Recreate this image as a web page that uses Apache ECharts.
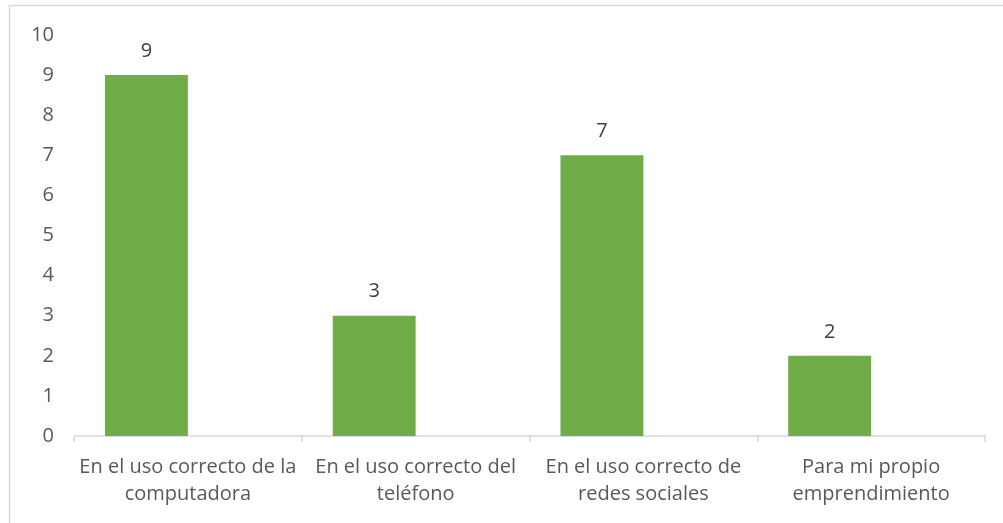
<!DOCTYPE html>
<html>
<head>
<meta charset="utf-8">
<script src="https://cdn.jsdelivr.net/npm/echarts@6/dist/echarts.min.js"></script>
<style>html,body{margin:0;padding:0;background:#fff;}#c{width:1003px;height:523px;}</style>
</head>
<body>
<div id="c"></div>
<script>
var categories = ["En el uso correcto de la\ncomputadora", "En el uso correcto del\nteléfono", "En el uso correcto de\nredes sociales", "Para mi propio\nemprendimiento"];
var values = [9, 3, 7, 2];
var emptySeries = [null, null, null, null];
var yTicks = { min: 0, max: 10, interval: 1 };

var chart = echarts.init(document.getElementById('c'), null, { renderer: 'canvas' });
var font = 'Open Sans';
chart.setOption({
  animation: false,
  graphic: [{
    type: 'rect', shape: { x: 9.5, y: 5.5, width: 1010, height: 540 },
    style: { fill: 'none', stroke: '#d9d9d9', lineWidth: 1.5 }, silent: true, z: -1
  }],
  grid: { left: 74, right: 18, top: 35, bottom: 87, containLabel: false },
  xAxis: {
    type: 'category', data: categories,
    axisLine: { lineStyle: { color: '#d9d9d9', width: 1.5 } },
    axisTick: { show: true, length: 6, lineStyle: { color: '#d9d9d9', width: 1.5 } },
    axisLabel: { color: '#595959', fontSize: 20, fontFamily: font, lineHeight: 27, margin: 18, interval: 0 }
  },
  yAxis: {
    type: 'value', min: yTicks.min, max: yTicks.max, interval: yTicks.interval,
    axisLine: { show: false }, axisTick: { show: false }, splitLine: { show: false },
    axisLabel: { color: '#595959', fontSize: 20, fontFamily: font, margin: 20 }
  },
  series: [{
    type: 'bar', data: values, barWidth: '36.4%', barGap: '0%',
    itemStyle: { color: '#70ad47' },
    label: { show: true, position: 'top', distance: 14, color: '#404040', fontSize: 20, fontFamily: font }
  }, {
    type: 'bar', data: emptySeries, barWidth: '36.4%', barGap: '0%',
    itemStyle: { color: '#4472c4' }
  }]
});
</script>
</body>
</html>
